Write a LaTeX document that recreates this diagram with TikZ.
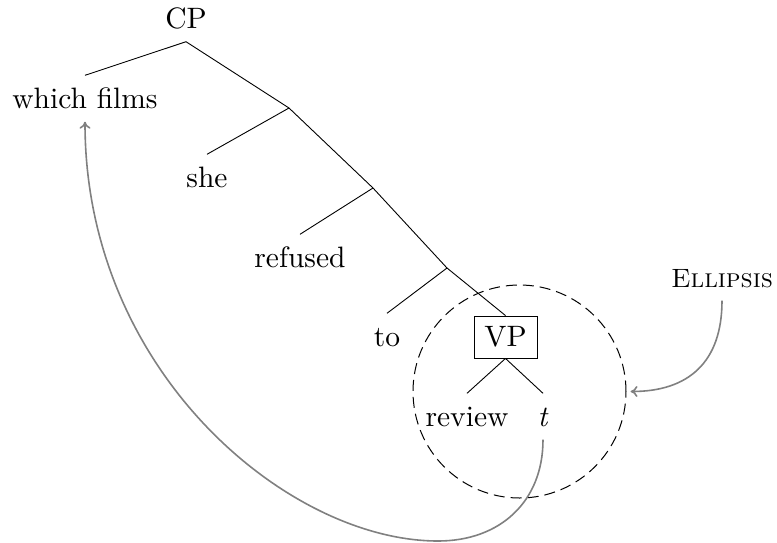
\documentclass[tikz,border=0pt]{standalone}
\usetikzlibrary{arrows.meta}
% Latin Modern at its 10pt design size, used at every size
\DeclareFontFamily{TU}{lmten}{}
\DeclareFontShape{TU}{lmten}{m}{n}{<-> "[lmroman10-regular]"}{}
\DeclareFontShape{TU}{lmten}{m}{it}{<-> "[lmroman10-italic]"}{}
\DeclareFontShape{TU}{lmten}{m}{sc}{<-> "[lmromancaps10-regular]"}{}
\begin{document}
\begin{tikzpicture}[x=1pt,y=1pt,
  every node/.style={font=\fontfamily{lmten}\fontsize{29.5}{35}\selectfont},
  word/.style={inner xsep=0pt, inner ysep=13.5pt, text height=19pt, text depth=0pt, anchor=base},
  branch/.style={line width=0.9pt},
  catbox/.style={draw, line width=0.9pt, minimum width=63pt, minimum height=42pt, inner sep=0pt},
  ellipsisring/.style={draw, circle, dashed, dash pattern=on 11pt off 6pt, line width=1pt, minimum size=213pt, inner sep=0pt},
  move/.style={draw=gray, line width=1.6pt, -{To[length=7pt,width=11pt]}}
]
\useasboundingbox (0,0) rectangle (777,-542);

% tree nodes
\node[word] (cp) at (186,-28) {CP};
\node[word] (films) at (85,-108) {which films};
\node[word] (she) at (207,-187) {she};
\node[word] (refused) at (300,-267) {refused};
\node[word] (to) at (387,-346) {to};
\node[catbox] (vp) at (505.5,-337) {VP};
\node[word] (review) at (467,-426) {review};
\node[word] (t) at (543,-426) {\textit{t}};

% branching points of the spine
\coordinate (b1) at (289,-108);
\coordinate (b2) at (373,-188);
\coordinate (b3) at (447,-268);

% branches
\draw[branch] (cp.south) -- (films.north);
\draw[branch] (cp.south) -- (b1);
\draw[branch] (b1) -- (she.north);
\draw[branch] (b1) -- (b2);
\draw[branch] (b2) -- (refused.north);
\draw[branch] (b2) -- (b3);
\draw[branch] (b3) -- (to.north);
\draw[branch] (b3) -- (vp.north);
\draw[branch] (vp.south) -- (review.north);
\draw[branch] (vp.south) -- (t.north);

% elided constituent
\node[ellipsisring] (ring) at (519.5,-391.5) {};
\node[word, font=\fontfamily{lmten}\fontsize{26.5}{32}\selectfont] (elab) at (722,-287) {\textsc{Ellipsis}};
\draw[move, shorten >=4pt] (elab.south) to[out=-90, in=0, looseness=1.2] (ring.east);

% movement of the wh-phrase
\coordinate (low) at (438,-541);
\draw[move] (t.south) .. controls +(0,-62) and +(62,0) .. (low)
  .. controls +(-150,0) and +(0,-250) .. (films.south);
\end{tikzpicture}
\end{document}
